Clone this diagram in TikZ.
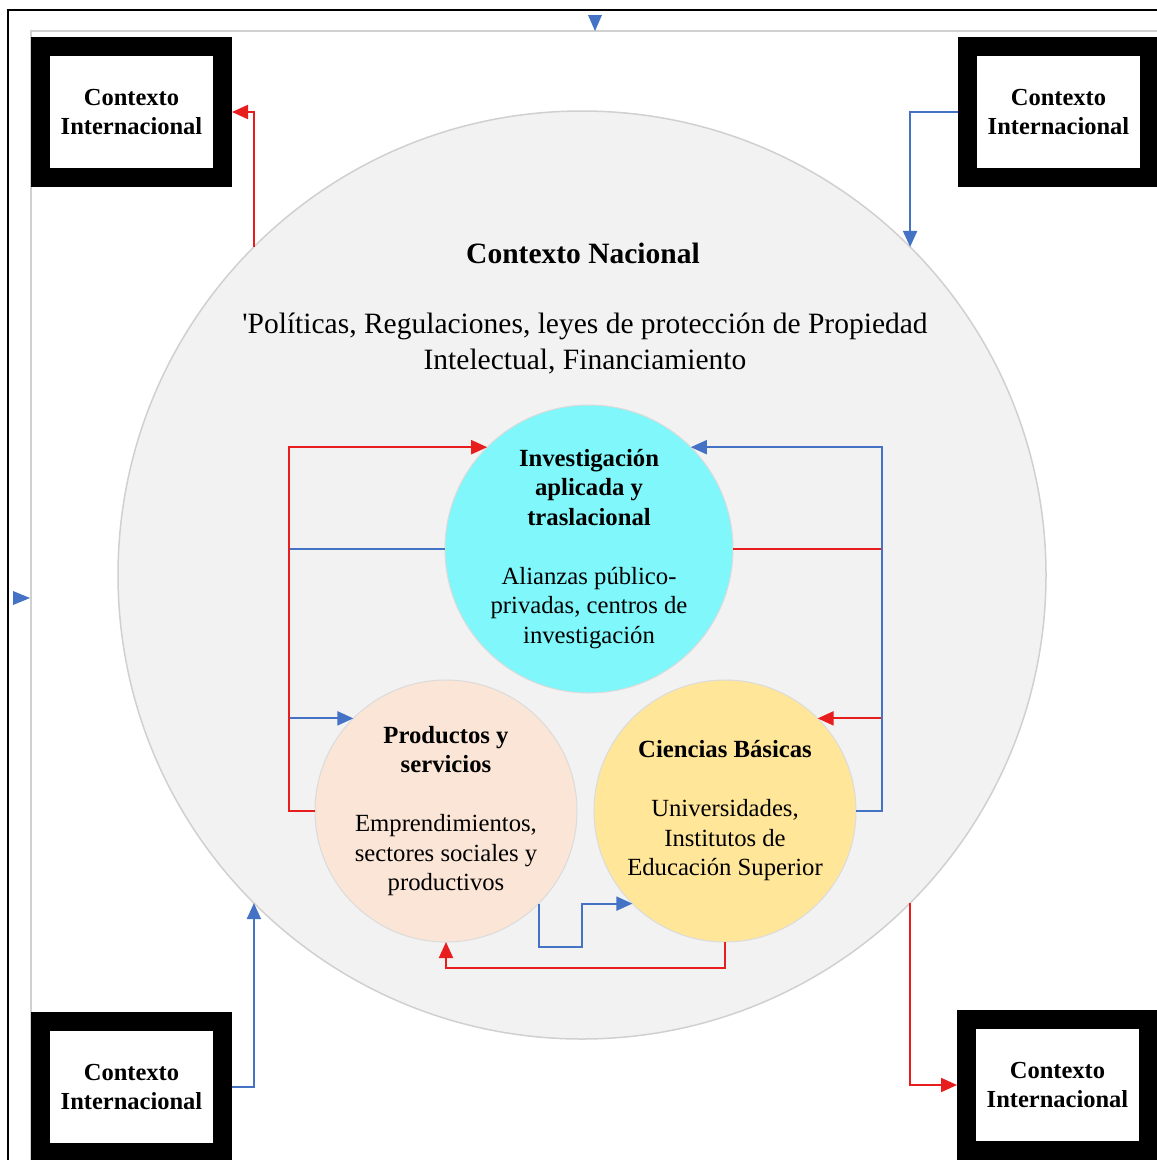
\documentclass[tikz,border=0pt]{standalone}
\usepackage{fontspec}
\setmainfont{Liberation Serif}
\usetikzlibrary{arrows.meta,calc}
\definecolor{myred}{RGB}{232,30,30}
\definecolor{myblue}{RGB}{68,114,196}
\definecolor{bigfill}{RGB}{242,242,242}
\definecolor{bigline}{RGB}{208,208,208}
\definecolor{cyanfill}{RGB}{128,247,250}
\definecolor{peachfill}{RGB}{251,229,214}
\definecolor{yellowfill}{RGB}{255,230,153}
\begin{document}
\begin{tikzpicture}[x=1pt,y=-1pt,
  ctxbox/.style={draw=black, line width=19pt, fill=white, minimum width=182pt, minimum height=131pt, inner sep=0pt, font=\fontsize{24.5}{28.5}\selectfont\bfseries, align=center},
  bubble/.style={circle, inner sep=0pt, outer sep=0pt, draw=black!14, line width=1pt},
  ctext/.style={align=center, inner sep=0pt, font=\fontsize{24.7}{29.5}\selectfont},
  redarr/.style={draw=myred, line width=2pt, -{Triangle[length=16pt,width=14pt]}},
  bluearr/.style={draw=myblue, line width=2pt, -{Triangle[length=16pt,width=14pt]}}]
\useasboundingbox (0,0) rectangle (1157,1160);
\fill[white] (0,0) rectangle (1157,1160);
% frames
\draw[line width=2pt] (8,1160) -- (8,10) -- (1157,10);
\draw[line width=2pt, bigline] (31,1160) -- (31,31) -- (1157,31);
\fill[myblue] (588,15) -- (602,15) -- (595,31) -- cycle;
\fill[myblue] (13,591) -- (13,605) -- (30,598) -- cycle;
% big circle
\node[circle, inner sep=0pt, outer sep=0pt, minimum size=928pt, fill=bigfill, draw=bigline, line width=1.5pt] (nac) at (582,575) {};
\node[font=\fontsize{29.5}{36}\selectfont\bfseries, inner sep=0pt] (nactitle) at (583,253) {Contexto Nacional};
\node[font=\fontsize{29.5}{36}\selectfont, align=center, inner sep=0pt] (nactext) at (585,344) {\textquotesingle Políticas, Regulaciones, leyes de protección de Propiedad\\Intelectual, Financiamiento};
% corner boxes
\node[ctxbox] (tl) at (131.5,112) {Contexto\\Internacional};
\node[ctxbox] (tr) at (1058.5,112) {Contexto\\Internacional};
\node[ctxbox] (bl) at (131.5,1087) {Contexto\\Internacional};
\node[ctxbox] (br) at (1057.5,1085) {Contexto\\Internacional};
% outer connectors
\draw[redarr] (nac.135) |- (tl.east);
\draw[bluearr] (tr.west) -| (nac.45);
\draw[bluearr] (bl.east) -| (nac.225);
\draw[redarr] (nac.-45) |- (br.west);
% inner circles
\node[bubble, fill=cyanfill, minimum size=288pt] (inv) at (589,549) {};
\node[bubble, fill=peachfill, minimum size=262pt] (prod) at (446,811) {};
\node[bubble, fill=yellowfill, minimum size=262pt] (cie) at (725,811) {};
\node[ctext] (invtxt) at (inv.center) {\textbf{Investigación}\\\textbf{aplicada y}\\\textbf{traslacional}\\[29.5pt]Alianzas público-\\privadas, centros de\\investigación};
\node[ctext] (prodtxt) at (prod.center) {\textbf{Productos y}\\\textbf{servicios}\\[29.5pt]Emprendimientos,\\sectores sociales y\\productivos};
\node[ctext] (cietxt) at (cie.center) {\textbf{Ciencias Básicas}\\[29.5pt]Universidades,\\Institutos de\\Educación Superior};
% inner connectors
\coordinate (lx) at (289,0);
\coordinate (rx) at (882,0);
\coordinate (bm) at (582,947);
\draw[bluearr] (inv.west) -- (inv.west -| lx) |- (prod.135);
\draw[redarr] (prod.west) -- (prod.west -| lx) |- (inv.135);
\draw[redarr] (inv.east) -- (inv.east -| rx) |- (cie.45);
\draw[bluearr] (cie.east) -- (cie.east -| rx) |- (inv.45);
\draw[bluearr] (prod.-45) |- (bm) |- (cie.225);
\draw[redarr] (cie.south) -- ++(0,26) -| (prod.south);
\end{tikzpicture}
\end{document}
